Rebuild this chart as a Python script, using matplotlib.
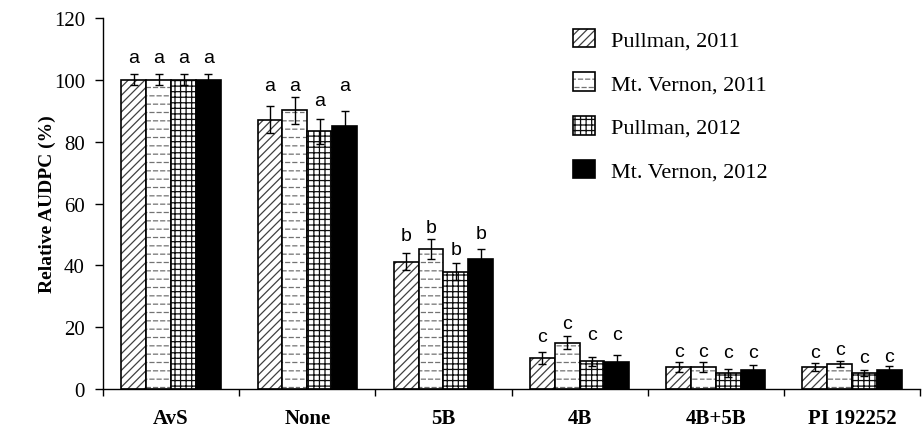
import warnings
import matplotlib.pyplot as plt
import matplotlib as mpl
import matplotlib.hatch as mhatch
from matplotlib.path import Path
import numpy as np

warnings.filterwarnings('ignore')

categories = ['AvS', 'None', '5B', '4B', '4B+5B', 'PI 192252']
series = ['Pullman, 2011', 'Mt. Vernon, 2011', 'Pullman, 2012', 'Mt. Vernon, 2012']

values = [
    [100, 87.1, 41.2, 10.0, 7.1, 7.1],
    [100, 90.1, 45.2, 14.9, 7.1, 8.1],
    [100, 83.3, 38.0, 8.9, 5.2, 5.2],
    [100, 85.2, 42.2, 8.6, 6.2, 6.2],
]
errors = [
    [1.8, 4.3, 2.8, 2.0, 1.5, 1.3],
    [1.8, 4.5, 3.2, 2.1, 1.7, 1.1],
    [1.8, 4.0, 2.6, 1.6, 1.3, 1.0],
    [1.8, 4.6, 3.2, 2.4, 1.7, 1.1],
]
letters = ['a', 'a', 'b', 'c', 'c', 'c']
# altezza (baseline) delle lettere
letter_y = [
    [105.7, 96.8, 48.2, 15.6, 10.7, 10.5],
    [105.7, 96.8, 50.8, 19.6, 10.7, 11.3],
    [105.7, 91.9, 43.8, 16.3, 10.2, 8.6],
    [105.7, 96.8, 48.9, 16.3, 10.2, 9.1],
]


# Tratteggio a trattini sfalsati ('d')
class DashHatch(mhatch.HatchPatternBase):

    def __init__(self, hatch, density):
        self.num_rows = int(hatch.count('d') * density)
        self.num_dash = 14
        self.num_vertices = self.num_rows * self.num_dash * 2

    def set_vertices_and_codes(self, vertices, codes):
        period = 1.0 / self.num_dash
        dash = 0.55 * period
        k = 0
        for r in range(self.num_rows):
            y = (r + 0.5) / self.num_rows
            shift = 0.5 * period if r % 2 else 0.0
            for d in range(self.num_dash):
                x0 = d * period + shift
                vertices[k] = (x0, y)
                vertices[k + 1] = (x0 + dash, y)
                codes[k] = Path.MOVETO
                codes[k + 1] = Path.LINETO
                k += 2


mhatch._hatch_types.append(DashHatch)

hatches = ['////', 'dd', '+++', None]
faces = ['white', 'white', 'white', 'black']
hatch_colors = ['0.25', '0.45', '0.05', 'black']

mpl.rcParams['hatch.linewidth'] = 0.9

fig = plt.figure(figsize=(9.23, 4.31), dpi=100)
ax = fig.add_axes([0.1116, 0.0951, 0.8852, 0.8608])

x = np.arange(len(categories))
width = 0.1825
offsets = [-1.5 * width, -0.5 * width, 0.5 * width, 1.5 * width]

for k in range(len(series)):
    bars = ax.bar(
        x + offsets[k],
        values[k],
        width = width,
        color = faces[k],
        edgecolor = 'black',
        linewidth = 1.2,
        hatch = hatches[k],
        label = series[k],
        zorder = 2
        )
    if hatches[k] is not None:
        for b in bars:
            b._hatch_color = mpl.colors.to_rgba(hatch_colors[k])
    ax.errorbar(
        x + offsets[k],
        values[k],
        yerr = errors[k],
        fmt = 'none',
        ecolor = 'black',
        elinewidth = 1,
        capsize = 3,
        capthick = 1,
        zorder = 3
        )
    for i in range(len(categories)):
        ax.text(
            x[i] + offsets[k],
            letter_y[k][i],
            letters[i],
            ha = 'center',
            va = 'baseline',
            fontsize = 14,
            family = 'Liberation Sans'
            )

# Assi
ax.set_xlim(-0.5, len(categories) - 0.5)
ax.set_ylim(0, 120)
ax.set_yticks(np.arange(0, 121, 20))
ax.set_xticks(x)
ax.set_xticklabels(categories, fontsize = 15, fontweight = 'bold', family = 'Liberation Serif')
ax.set_xticks(np.arange(-0.5, len(categories), 1), minor = True)
ax.tick_params(axis = 'x', which = 'major', length = 0, pad = 14)
ax.tick_params(axis = 'x', which = 'minor', length = 5, direction = 'out', width = 1)
ax.tick_params(axis = 'y', length = 6, direction = 'out', width = 1, labelsize = 15, pad = 7)
for lab in ax.get_yticklabels():
    lab.set_family('Liberation Serif')

ax.set_ylabel('Relative AUDPC (%)', fontsize = 14, fontweight = 'bold', family = 'Liberation Serif')
ax.yaxis.set_label_coords(-0.057, 0.5)

ax.spines['top'].set_visible(False)
ax.spines['right'].set_visible(False)
ax.spines['left'].set_linewidth(1)
ax.spines['bottom'].set_linewidth(1)

# Legenda
ax.legend(
    loc = 'upper left',
    bbox_to_anchor = (0.6208, 0.931),
    bbox_transform = fig.transFigure,
    borderpad = 0,
    borderaxespad = 0,
    frameon = False,
    prop = {'family': 'Liberation Serif', 'size': 16},
    handlelength = 1.0,
    handleheight = 0.9,
    labelspacing = 0.98,
    handletextpad = 0.7
    )

plt.savefig('out.png')
